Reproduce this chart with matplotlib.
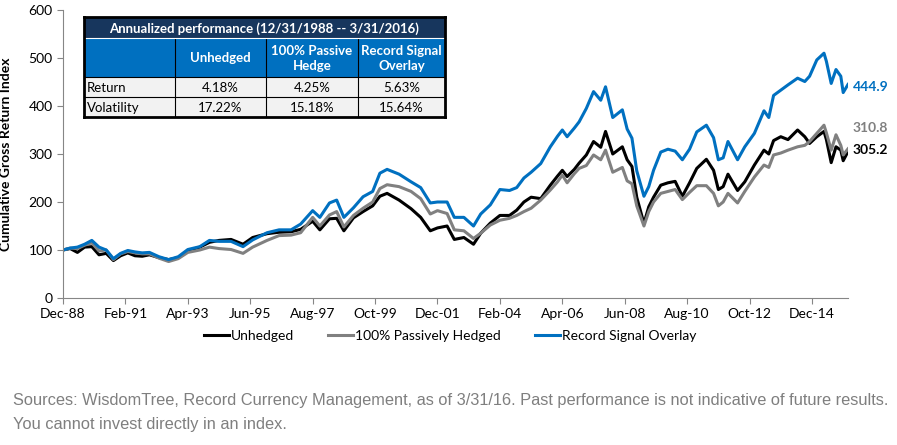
import matplotlib
matplotlib.use("Agg")
import matplotlib.pyplot as plt
from matplotlib.patches import Rectangle

# months since Dec-88
months = [0, 3, 6, 9, 12, 15, 18, 21, 24, 27, 30, 33, 36, 40, 44, 48, 52, 57, 61,
          65, 70, 75, 79, 85, 90, 95, 99, 104, 107, 111, 114, 117, 121, 125, 129,
          132, 135, 140, 145, 149, 153, 156, 160, 163, 167, 171, 174, 178, 182,
          186, 189, 192, 195, 199, 203, 206, 208, 210, 213, 215, 218, 221, 224,
          226, 229, 233, 235, 237, 239, 242, 244, 246, 249, 252, 255, 258, 261,
          264, 268, 271, 273, 275, 277, 281, 284, 288, 292, 294, 296, 299, 302,
          306, 309, 311, 314, 317, 318, 320, 322, 324, 325, 327]

unhedged = [100, 103, 95, 106, 107, 90, 93, 78, 88, 94, 88, 87, 90, 84, 80, 84, 98, 106, 116,
            120, 122, 112, 126, 134, 137, 138, 143, 160, 142, 165, 166, 140, 167, 180, 192,
            212, 218, 204, 186, 168, 140, 146, 150, 122, 126, 112, 135, 156, 172,
            172, 183, 200, 210, 207, 235, 254, 266, 253, 268, 281, 298, 326, 314,
            347, 300, 315, 288, 274, 210, 155, 190, 210, 235, 240, 243, 212, 240,
            270, 289, 266, 226, 232, 258, 224, 242, 277, 308, 300, 328, 336, 330,
            350, 336, 322, 336, 347, 330, 282, 315, 308, 286, 305.2]

passive = [100, 104, 103, 110, 115, 98, 100, 80, 92, 97, 94, 92, 92, 83, 76, 82, 95, 100, 106,
           103, 101, 93, 106, 120, 130, 131, 136, 168, 150, 173, 180, 148, 172, 187, 200,
           228, 236, 232, 222, 207, 175, 182, 176, 142, 140, 124, 135, 152, 162,
           166, 172, 180, 187, 204, 225, 242, 256, 240, 259, 270, 276, 298, 288,
           308, 262, 272, 244, 238, 192, 150, 180, 200, 218, 222, 226, 205, 220,
           234, 234, 218, 192, 200, 218, 198, 222, 252, 277, 272, 298, 302, 308,
           315, 318, 326, 343, 360, 344, 308, 340, 318, 298, 310.8]

signal = [100, 104, 106, 112, 120, 106, 100, 82, 93, 99, 96, 94, 95, 86, 80, 86, 101, 107, 120,
          118, 118, 107, 121, 136, 142, 142, 154, 182, 168, 198, 204, 168, 188, 211, 222,
          260, 268, 258, 242, 230, 198, 200, 200, 168, 168, 150, 175, 194, 226,
          224, 230, 250, 262, 280, 315, 337, 350, 336, 354, 367, 395, 430, 412,
          440, 376, 392, 352, 333, 265, 212, 232, 266, 304, 310, 306, 288, 310,
          346, 360, 334, 288, 292, 326, 288, 315, 343, 390, 376, 422, 433, 444,
          458, 451, 462, 496, 510, 493, 447, 476, 462, 428, 444.9]

tick_labels = ["Dec-88", "Feb-91", "Apr-93", "Jun-95", "Aug-97", "Oct-99", "Dec-01",
               "Feb-04", "Apr-06", "Jun-08", "Aug-10", "Oct-12", "Dec-14"]

table_cols = ["Unhedged", "100% Passive\nHedge", "Record Signal\nOverlay"]
table_rows = ["Return", "Volatility"]
table_vals = [["4.18%", "4.25%", "5.63%"], ["17.22%", "15.18%", "15.64%"]]

c_black = "#000000"
c_gray = "#808080"
c_blue = "#0070C0"

W, H = 897, 445
fig = plt.figure(figsize=(W / 100, H / 100), dpi=100)
plt.rcParams['font.family'] = ['Lato', 'DejaVu Sans']

ax = fig.add_axes([63 / W, 1 - 298 / H, (848 - 63) / W, (298 - 10) / H])
ax.plot(months, unhedged, color=c_black, lw=2.2, label="Unhedged")
ax.plot(months, passive, color=c_gray, lw=2.2, label="100% Passively Hedged")
ax.plot(months, signal, color=c_blue, lw=2.2, label="Record Signal Overlay")

ax.set_xlim(0, 327)
ax.set_ylim(0, 600)
ax.set_yticks(range(0, 700, 100))
ax.set_xticks([26 * i for i in range(len(tick_labels))])
ax.set_xticklabels(tick_labels)
ax.tick_params(labelsize=10, colors="#000000", length=4, width=0.8)
ax.tick_params(axis="both", color="#868686")
for s in ["top", "right"]:
    ax.spines[s].set_visible(False)
for s in ["left", "bottom"]:
    ax.spines[s].set_color("#868686")
ax.set_ylabel("Cumulative Gross Return Index", fontsize=10, fontweight="bold")
ax.yaxis.set_label_coords(-0.065, 0.5)

# end labels
ax.text(329, signal[-1] - 5, f"{signal[-1]:.1f}", color=c_blue, fontsize=10,
        fontweight="bold", va="center", clip_on=False)
ax.text(329, passive[-1] + 43, f"{passive[-1]:.1f}", color=c_gray, fontsize=10,
        fontweight="bold", va="center", clip_on=False)
ax.text(329, unhedged[-1] + 3, f"{unhedged[-1]:.1f}", color=c_black, fontsize=10,
        fontweight="bold", va="center", clip_on=False)

fig.legend(loc="center", bbox_to_anchor=(450 / W, 1 - 336 / H), ncol=3, frameon=False,
           fontsize=10, handlelength=1.8, handletextpad=0.1, columnspacing=2.5)


# table drawn in pixel coords
def px_rect(x0, y0, x1, y1, color):
    r = Rectangle((x0 / W, 1 - y1 / H), (x1 - x0) / W, (y1 - y0) / H,
                  transform=fig.transFigure, facecolor=color, edgecolor="none")
    fig.patches.append(r)


def px_line(x0, y0, x1, y1, color, lw):
    fig.add_artist(plt.Line2D([x0 / W, x1 / W], [1 - y0 / H, 1 - y1 / H],
                              transform=fig.transFigure, color=color, lw=lw))


def px_text(x, y, s, **kw):
    fig.text(x / W, 1 - y / H, s, **kw)


xs = [84, 175, 266, 358, 445]
ys = [17, 38, 77, 97, 117]
px_rect(xs[0], ys[0], xs[-1], ys[1], "#17365D")
px_rect(xs[0], ys[1], xs[-1], ys[2], "#0070C0")
px_rect(xs[0], ys[2], xs[-1], ys[4], "#F2F2F2")
px_text((xs[0] + xs[-1]) / 2, (ys[0] + ys[1]) / 2 + 1, "Annualized performance (12/31/1988 -- 3/31/2016)",
        color="white", fontweight="bold", fontsize=9.5, ha="center", va="center")
for i, c in enumerate(table_cols):
    px_text((xs[i + 1] + xs[i + 2]) / 2, (ys[1] + ys[2]) / 2 + 1, c, color="white",
            fontweight="bold", fontsize=9.5, ha="center", va="center", linespacing=1.3)
for r, name in enumerate(table_rows):
    yc = (ys[r + 2] + ys[r + 3]) / 2 + 1
    px_text(xs[0] + 3, yc, name, fontsize=9.5, ha="left", va="center")
    for i, v in enumerate(table_vals[r]):
        px_text((xs[i + 1] + xs[i + 2]) / 2, yc, v, fontsize=9.5, ha="center", va="center")
# grid lines
for x in xs[1:-1]:
    px_line(x, ys[1], x, ys[4], "black", 0.8)
px_line(xs[0], ys[2], xs[-1], ys[2], "black", 0.8)
px_line(xs[0], ys[3], xs[-1], ys[3], "black", 0.8)
px_line(xs[0], ys[1], xs[-1], ys[1], "white", 0.8)
# outer border
px_line(xs[0], ys[0], xs[-1], ys[0], "black", 2)
px_line(xs[0], ys[4], xs[-1], ys[4], "black", 2)
px_line(xs[0], ys[0], xs[0], ys[4], "black", 2)
px_line(xs[-1], ys[0], xs[-1], ys[4], "black", 2)

fig.text(13 / W, 1 - 401 / H,
         "Sources: WisdomTree, Record Currency Management, as of 3/31/16. Past performance is not indicative of future results.",
         fontsize=11.8, color="#7F7F7F", family="Liberation Sans", va="center")
fig.text(13 / W, 1 - 425 / H, "You cannot invest directly in an index.",
         fontsize=11.8, color="#7F7F7F", family="Liberation Sans", va="center")

fig.savefig("out.png", dpi=100)
